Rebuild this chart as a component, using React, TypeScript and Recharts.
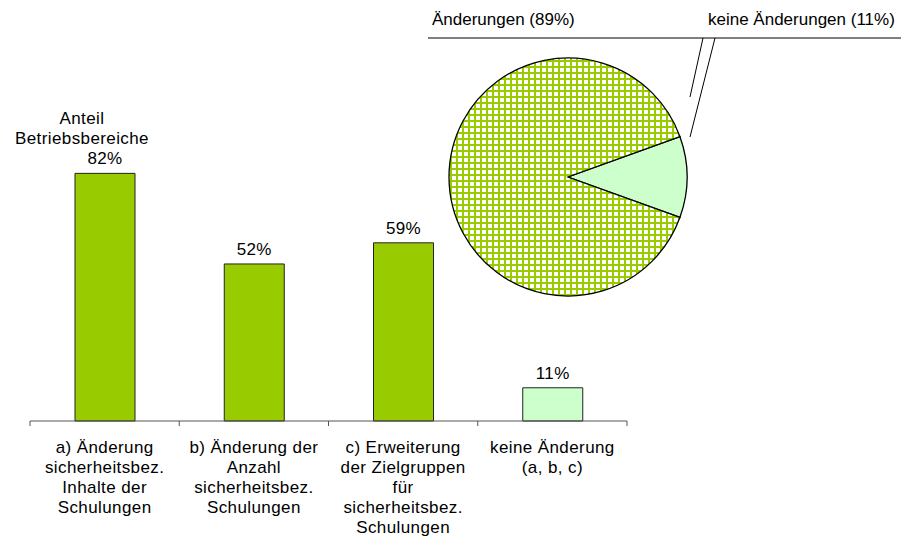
import React from 'react'
import { BarChart, Bar, XAxis, YAxis, Cell, LabelList, PieChart, Pie } from 'recharts'

// bar chart data
const CATEGORIES = [
  'a) Änderung\nsicherheitsbez.\nInhalte der\nSchulungen',
  'b) Änderung der\nAnzahl\nsicherheitsbez.\nSchulungen',
  'c) Erweiterung\nder Zielgruppen\nfür\nsicherheitsbez.\nSchulungen',
  'keine Änderung\n(a, b, c)',
]
const SHARES = [82, 52, 59, 11]

// pie data
const PIE_NAMES = ['keine Änderungen', 'Änderungen']
const PIE_VALUES = [11, 89]

const GREEN = '#99cc00'
const LIGHT = '#ccffcc'
const FONT = '"Liberation Sans", Arial, sans-serif'

const W = 909
const H = 551
const MARGIN = { top: 119, right: 282, bottom: 0, left: 30 }
const BAND = (W - MARGIN.left - MARGIN.right) / CATEGORIES.length

const barData = CATEGORIES.map((c, i) => ({ name: c, value: SHARES[i] }))
const pieData = PIE_NAMES.map((n, i) => ({ name: n, value: PIE_VALUES[i] }))

function CategoryTick(props: any) {
  const { x, y, payload, index } = props
  const lines = String(payload.value).split('\n')
  return (
    <g>
      <line x1={x - BAND / 2} x2={x - BAND / 2} y1={y} y2={y + 5} stroke="#555" />
      {index === CATEGORIES.length - 1 && (
        <line x1={x + BAND / 2} x2={x + BAND / 2} y1={y} y2={y + 5} stroke="#555" />
      )}
      <text x={x} y={y + 32} textAnchor="middle" fontSize={17} letterSpacing={0.4} fill="#000" fontFamily={FONT}>
        {lines.map((l, i) => (
          <tspan key={i} x={x} dy={i === 0 ? 0 : 20}>{l}</tspan>
        ))}
      </text>
    </g>
  )
}

function PieLabel(props: any) {
  const { cx, cy, index, name, value } = props
  const ty = cy - 152
  const hy = cy - 139
  if (index === 1) {
    return (
      <g>
        <text x={cx - 136} y={ty} fontSize={17} fill="#000" fontFamily={FONT}>{`${name} (${value}%)`}</text>
        <line x1={cx - 140} x2={cx + 135} y1={hy} y2={hy} stroke="#000" />
        <line x1={cx + 135} y1={hy} x2={cx + 122} y2={cy - 80} stroke="#000" />
      </g>
    )
  }
  return (
    <g>
      <text x={cx + 140} y={ty} fontSize={17} fill="#000" fontFamily={FONT}>{`${name} (${value}%)`}</text>
      <line x1={cx + 135} x2={W} y1={hy} y2={hy} stroke="#000" />
      <line x1={cx + 147} y1={hy} x2={cx + 122} y2={cy - 40} stroke="#000" />
    </g>
  )
}

export default function App() {
  return (
    <div style={{ position: 'relative', width: W, height: H, margin: -8, fontFamily: FONT, background: '#fff' }}>
      <div style={{ position: 'absolute', left: 2, top: 109, width: 160, textAlign: 'center', fontSize: 17, lineHeight: '20px', letterSpacing: 0.4 }}>
        Anteil<br />Betriebsbereiche
      </div>
      <div style={{ position: 'absolute', left: 0, top: 0 }}>
        <BarChart width={W} height={H} data={barData} margin={MARGIN}>
          <XAxis
            dataKey="name"
            interval={0}
            height={130}
            tickLine={false}
            tickSize={0}
            tickMargin={0}
            axisLine={{ stroke: '#555' }}
            tick={<CategoryTick />}
          />
          <YAxis hide domain={[0, 100]} />
          <Bar dataKey="value" barSize={60} stroke="#222" strokeWidth={1} isAnimationActive={false}>
            {barData.map((_, i) => (
              <Cell key={i} fill={i === barData.length - 1 ? LIGHT : GREEN} />
            ))}
            <LabelList
              dataKey="value"
              position="top"
              offset={9}
              formatter={(v: any) => `${v}%`}
              style={{ fontSize: 17, fill: '#000', fontFamily: FONT, letterSpacing: 0.4 }}
            />
          </Bar>
        </BarChart>
      </div>
      <div style={{ position: 'absolute', left: 0, top: 0, pointerEvents: 'none' }}>
        <PieChart width={W} height={H} margin={{ top: 0, right: 0, bottom: 0, left: 0 }}>
          <defs>
            <pattern id="hatch" width={6} height={6} patternUnits="userSpaceOnUse">
              <rect width={6} height={6} fill="#fff" />
              <rect width={6} height={2} fill={GREEN} />
              <rect width={2} height={6} fill={GREEN} />
            </pattern>
          </defs>
          <Pie
            data={pieData}
            dataKey="value"
            cx={568}
            cy={177}
            outerRadius={119}
            startAngle={19.8}
            endAngle={19.8 - 360}
            stroke="#000"
            strokeWidth={1.3}
            label={<PieLabel />}
            labelLine={false}
            isAnimationActive={false}
          >
            <Cell fill={LIGHT} />
            <Cell fill="url(#hatch)" />
          </Pie>
        </PieChart>
      </div>
    </div>
  )
}
